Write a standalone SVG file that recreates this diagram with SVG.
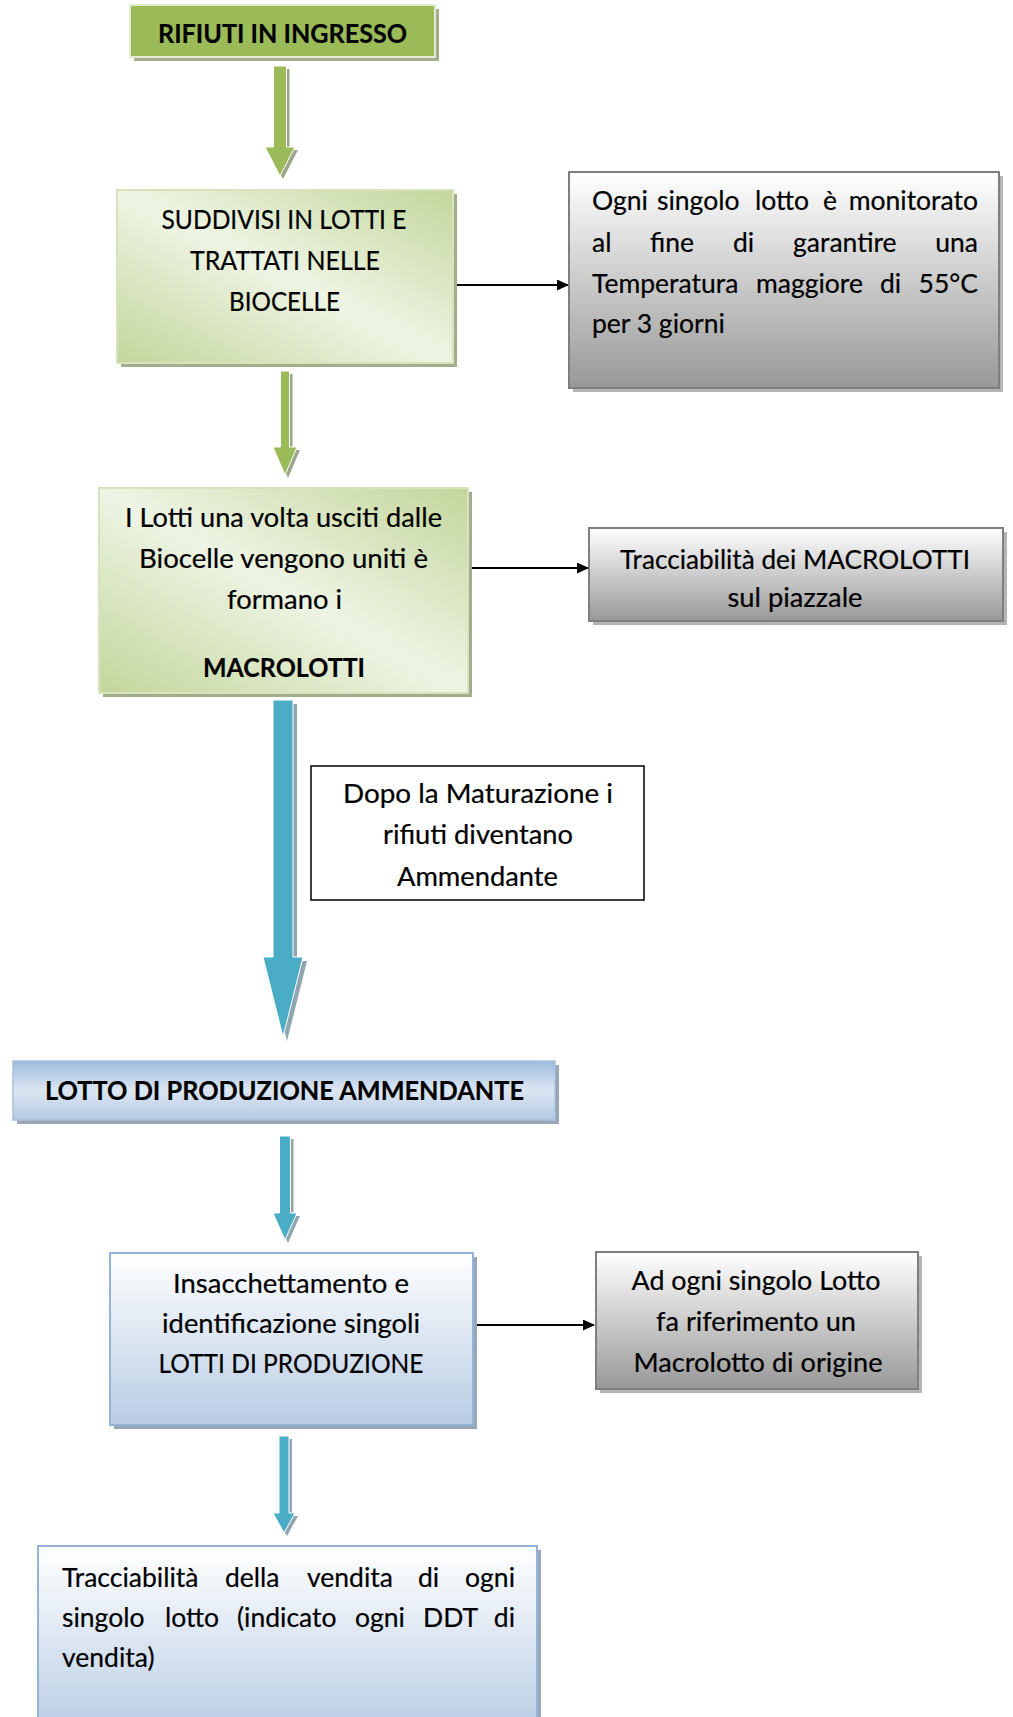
<svg xmlns="http://www.w3.org/2000/svg" width="1013" height="1717" viewBox="0 0 1013 1717">
<defs>
<linearGradient id="gGreen" x1="1" y1="0" x2="0" y2="1">
<stop offset="0" stop-color="#c3d69b"/><stop offset="0.5" stop-color="#eef4e4"/><stop offset="1" stop-color="#c3d69b"/>
</linearGradient>
<linearGradient id="gGray" x1="0" y1="0" x2="0" y2="1">
<stop offset="0" stop-color="#ffffff"/><stop offset="1" stop-color="#989898"/>
</linearGradient>
<linearGradient id="gBlueBand" x1="0" y1="0" x2="0" y2="1">
<stop offset="0" stop-color="#9dbadc"/><stop offset="0.5" stop-color="#dde7f3"/><stop offset="1" stop-color="#b3c8e2"/>
</linearGradient>
<linearGradient id="gBlue" x1="0" y1="0" x2="0" y2="1">
<stop offset="0" stop-color="#ffffff"/><stop offset="1" stop-color="#b8cce4"/>
</linearGradient>
<marker id="ah" markerWidth="12" markerHeight="11" refX="11" refY="5.5" orient="auto" markerUnits="userSpaceOnUse">
<path d="M0,0 L12,5.5 L0,11 z" fill="#000"/>
</marker>
</defs>
<style>
.t{font-family:Lato,"Liberation Sans",sans-serif;font-size:26.5px;fill:#000;stroke:#000;stroke-width:0.2px}
.b{font-weight:bold}
.c{text-anchor:middle}
.e{text-anchor:end}
.shG{fill:#a3ad8c}
.shK{fill:#b5b5b5}
.shB{fill:#98a6b8}
.ag{fill:#9bbb59;stroke:#ffffff;stroke-width:1}
.ab{fill:#4bacc6;stroke:#ffffff;stroke-width:1}
.agS{fill:#9aa58a}
.abS{fill:#8fa6b0}
.ln{stroke:#000;stroke-width:2;fill:none}
</style>
<rect width="1013" height="1717" fill="#ffffff"/>

<g id="connectors">
<polygon class="agS" points="276.5,69 289.5,69 289.5,150 298,150 283,179 268,150 276.5,150"/>
<polygon class="ag" points="273.5,66 286.5,66 286.5,147 295,147 280,176 265,147 273.5,147"/>
<polygon class="agS" points="283.5,374 292.5,374 292.5,450 300,450 288,478 276,450 283.5,450"/>
<polygon class="ag" points="280.5,371 289.5,371 289.5,447 297,447 285,475 273,447 280.5,447"/>
<polygon class="abS" points="277,704 297,704 297,961 307,961 287,1041 267,961 277,961"/>
<polygon class="ab" points="273,700 293,700 293,957 303,957 283,1037 263,957 273,957"/>
<polygon class="abS" points="282.5,1139 293.5,1139 293.5,1216 300,1216 288,1243 276,1216 282.5,1216"/>
<polygon class="ab" points="279.5,1136 290.5,1136 290.5,1213 297,1213 285,1240 273,1213 279.5,1213"/>
<polygon class="abS" points="282,1439 292,1439 292,1516 298,1516 287,1536 276,1516 282,1516"/>
<polygon class="ab" points="279,1436 289,1436 289,1513 295,1513 284,1533 273,1513 279,1513"/>
<line class="ln" x1="451" y1="285" x2="568" y2="285" marker-end="url(#ah)"/>
<line class="ln" x1="469" y1="568" x2="588" y2="568" marker-end="url(#ah)"/>
<line class="ln" x1="473" y1="1325" x2="594" y2="1325" marker-end="url(#ah)"/>
</g>

<g id="n-rifiuti">
<rect class="shG" x="134" y="9" width="305" height="52"/>
<rect x="130" y="5" width="305" height="52" fill="#9bbb59" stroke="#e3ecd3" stroke-width="2"/>
<text class="t b c" x="282.5" y="43" textLength="249" lengthAdjust="spacingAndGlyphs">RIFIUTI IN INGRESSO</text>
</g>

<g id="n-suddivisi">
<rect class="shG" x="121" y="194" width="336" height="173"/>
<rect x="117" y="190" width="336" height="173" fill="url(#gGreen)" stroke="#d6e3bc" stroke-width="2"/>
<text class="t c" x="284" y="229" textLength="245" lengthAdjust="spacingAndGlyphs">SUDDIVISI IN LOTTI E</text>
<text class="t c" x="285" y="270" textLength="190" lengthAdjust="spacingAndGlyphs">TRATTATI NELLE</text>
<text class="t c" x="284.5" y="311" textLength="111" lengthAdjust="spacingAndGlyphs">BIOCELLE</text>
</g>

<g id="n-monitorato">
<rect class="shK" x="573" y="176" width="430" height="216"/>
<rect x="569" y="172" width="430" height="216" fill="url(#gGray)" stroke="#7f7f7f" stroke-width="2"/>
<text class="t" x="592" y="210">Ogni</text>
<text class="t" x="657" y="210">singolo</text>
<text class="t" x="755" y="210">lotto</text>
<text class="t" x="823" y="210">è</text>
<text class="t e" x="978" y="210">monitorato</text>
<text class="t" x="592" y="251.5">al</text>
<text class="t" x="650" y="251.5">fine</text>
<text class="t" x="733" y="251.5">di</text>
<text class="t" x="793" y="251.5">garantire</text>
<text class="t e" x="978" y="251.5">una</text>
<text class="t" x="592" y="293">Temperatura</text>
<text class="t" x="756" y="293">maggiore</text>
<text class="t" x="880" y="293">di</text>
<text class="t e" x="978" y="293">55°C</text>
<text class="t" x="592" y="333">per 3 giorni</text>
</g>

<g id="n-macrolotti">
<rect class="shG" x="103" y="492" width="369" height="205"/>
<rect x="99" y="488" width="369" height="205" fill="url(#gGreen)" stroke="#d6e3bc" stroke-width="2"/>
<text class="t c" x="283.5" y="527" textLength="317" lengthAdjust="spacingAndGlyphs">I Lotti una volta usciti dalle</text>
<text class="t c" x="283.5" y="568" textLength="289" lengthAdjust="spacingAndGlyphs">Biocelle vengono  uniti è</text>
<text class="t c" x="284.5" y="609" textLength="115" lengthAdjust="spacingAndGlyphs">formano i</text>
<text class="t b c" x="284" y="677" textLength="162" lengthAdjust="spacingAndGlyphs">MACROLOTTI</text>
</g>

<g id="n-tracciabilita-macrolotti">
<rect class="shK" x="593" y="532" width="414" height="93"/>
<rect x="589" y="528" width="414" height="93" fill="url(#gGray)" stroke="#7f7f7f" stroke-width="2"/>
<text class="t c" x="795" y="569" textLength="350" lengthAdjust="spacingAndGlyphs">Tracciabilità dei MACROLOTTI</text>
<text class="t c" x="795" y="607" textLength="135" lengthAdjust="spacingAndGlyphs">sul piazzale</text>
</g>

<g id="n-maturazione">
<rect x="311" y="766" width="333" height="134" fill="#ffffff" stroke="#000" stroke-width="1.5"/>
<text class="t c" x="478" y="803" textLength="270" lengthAdjust="spacingAndGlyphs">Dopo  la Maturazione i</text>
<text class="t c" x="478" y="844" textLength="190" lengthAdjust="spacingAndGlyphs">rifiuti diventano</text>
<text class="t c" x="477.5" y="886" textLength="161" lengthAdjust="spacingAndGlyphs">Ammendante</text>
</g>

<g id="n-lotto-produzione">
<rect class="shB" x="17" y="1065" width="542" height="59"/>
<rect x="13" y="1061" width="542" height="59" fill="url(#gBlueBand)" stroke="#a7c0df" stroke-width="1.5"/>
<text class="t b c" x="284.5" y="1100" textLength="479" lengthAdjust="spacingAndGlyphs">LOTTO DI PRODUZIONE AMMENDANTE</text>
</g>

<g id="n-insacchettamento">
<rect class="shB" x="114" y="1257" width="363" height="172"/>
<rect x="110" y="1253" width="363" height="172" fill="url(#gBlue)" stroke="#95b3d7" stroke-width="2"/>
<text class="t c" x="291" y="1293" textLength="236" lengthAdjust="spacingAndGlyphs">Insacchettamento e</text>
<text class="t c" x="291" y="1333" textLength="258" lengthAdjust="spacingAndGlyphs">identificazione singoli</text>
<text class="t c" x="291" y="1373" textLength="265" lengthAdjust="spacingAndGlyphs">LOTTI DI PRODUZIONE</text>
</g>

<g id="n-macrolotto-origine">
<rect class="shK" x="600" y="1256" width="322" height="137"/>
<rect x="596" y="1252" width="322" height="137" fill="url(#gGray)" stroke="#7f7f7f" stroke-width="2"/>
<text class="t c" x="756" y="1290" textLength="249" lengthAdjust="spacingAndGlyphs">Ad ogni singolo Lotto</text>
<text class="t c" x="756" y="1331" textLength="200" lengthAdjust="spacingAndGlyphs">fa riferimento un</text>
<text class="t c" x="758" y="1372" textLength="249" lengthAdjust="spacingAndGlyphs">Macrolotto di origine</text>
</g>

<g id="n-vendita">
<rect class="shB" x="42" y="1550" width="499" height="190"/>
<rect x="38" y="1546" width="499" height="190" fill="url(#gBlue)" stroke="#95b3d7" stroke-width="2"/>
<text class="t" x="62" y="1586.5">Tracciabilità</text>
<text class="t" x="225" y="1586.5">della</text>
<text class="t" x="307" y="1586.5">vendita</text>
<text class="t" x="418" y="1586.5">di</text>
<text class="t e" x="515" y="1586.5">ogni</text>
<text class="t" x="62" y="1626.5">singolo</text>
<text class="t" x="165" y="1626.5">lotto</text>
<text class="t" x="237" y="1626.5">(indicato</text>
<text class="t" x="355" y="1626.5">ogni</text>
<text class="t" x="423" y="1626.5">DDT</text>
<text class="t e" x="515" y="1626.5">di</text>
<text class="t" x="62" y="1666.5">vendita)</text>
</g>
</svg>
